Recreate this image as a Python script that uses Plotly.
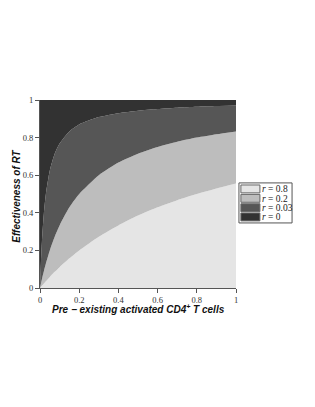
import plotly.graph_objects as go

x_vals = [0, 0.005, 0.01, 0.02, 0.03, 0.05, 0.075, 0.1, 0.15, 0.2, 0.3, 0.4, 0.5, 0.6, 0.7, 0.8, 0.9, 1.0]
e_r08 = [0, 0.006, 0.012, 0.024, 0.036, 0.059, 0.086, 0.111, 0.158, 0.2, 0.273, 0.333, 0.385, 0.429, 0.467, 0.5, 0.529, 0.556]
e_r02 = [0, 0.024, 0.048, 0.091, 0.130, 0.2, 0.273, 0.333, 0.429, 0.5, 0.6, 0.667, 0.714, 0.75, 0.778, 0.8, 0.818, 0.833]
e_r003 = [0, 0.143, 0.25, 0.4, 0.5, 0.625, 0.714, 0.769, 0.833, 0.87, 0.909, 0.93, 0.943, 0.952, 0.959, 0.964, 0.968, 0.971]
e_r0 = [1.0] * len(x_vals)

labels = ["<i>r</i> = 0.8", "<i>r</i> = 0.2", "<i>r</i> = 0.03", "<i>r</i> = 0"]
series = [e_r08, e_r02, e_r003, e_r0]
colors = ["#e5e5e5", "#bdbdbd", "#565656", "#323232"]
tick_vals = [0, 0.2, 0.4, 0.6, 0.8, 1]
tick_text = ["0", "0.2", "0.4", "0.6", "0.8", "1"]
x_title = "<b><i>Pre − existing activated CD4<sup>+</sup> T cells</i></b>"
y_title = "<b><i>Effectiveness of RT</i></b>"

fig = go.Figure()
for i, (lab, ys, c) in enumerate(zip(labels, series, colors)):
    fig.add_trace(go.Scatter(
        x=x_vals, y=ys, name=lab, mode="lines", showlegend=False,
        line=dict(color=c, width=0, shape="spline", smoothing=0.6),
        fill="tozeroy" if i == 0 else "tonexty",
        fillcolor=c,
    ))

# manual legend (paper coordinates)
shapes = [dict(type="rect", xref="paper", yref="paper", x0=1.015, x1=1.286, y0=0.346, y1=0.559,
               line=dict(color="#555", width=1), fillcolor="white", layer="above")]
annotations = []
row_y = [0.527, 0.477, 0.427, 0.378]
for lab, c, yc in zip(labels, colors, row_y):
    shapes.append(dict(type="rect", xref="paper", yref="paper", x0=1.025, x1=1.122,
                       y0=yc - 0.021, y1=yc + 0.021, fillcolor=c,
                       line=dict(color="#666", width=1), layer="above"))
    annotations.append(dict(xref="paper", yref="paper", x=1.126, y=yc, xanchor="left", yanchor="middle",
                            text=lab, showarrow=False, height=9, borderpad=0,
                            font=dict(family="Liberation Serif", size=9.5, color="#222")))

# axis titles
annotations.append(dict(xref="paper", yref="paper", x=0.5, y=-0.112, xanchor="center", yanchor="middle",
                        text=x_title, showarrow=False,
                        font=dict(family="Liberation Sans", size=10, color="#111")))
annotations.append(dict(xref="paper", yref="paper", x=-0.118, y=0.49, xanchor="center", yanchor="middle",
                        text=y_title, showarrow=False, textangle=-90,
                        font=dict(family="Liberation Sans", size=10, color="#111")))

# page body adds 8px offset; compensate so the plot area lands at x 40-236, y 100-288
fig.update_layout(
    width=307, height=399,
    margin=dict(l=32, r=79, t=92, b=119),
    paper_bgcolor="white", plot_bgcolor="white",
    font=dict(family="Liberation Serif", size=8.5, color="#333"),
    showlegend=False,
    shapes=shapes, annotations=annotations,
    xaxis=dict(
        range=[0, 1], tickvals=tick_vals, ticktext=tick_text,
        ticks="outside", ticklen=4, tickcolor="#555", showline=True, linecolor="#555",
        showgrid=False, zeroline=False, automargin=False,
    ),
    yaxis=dict(
        range=[0, 1], tickvals=tick_vals, ticktext=tick_text,
        ticks="outside", ticklen=4, tickcolor="#555", showline=True, linecolor="#555",
        showgrid=False, zeroline=False, automargin=False,
    ),
)

fig.write_html("out.html")
